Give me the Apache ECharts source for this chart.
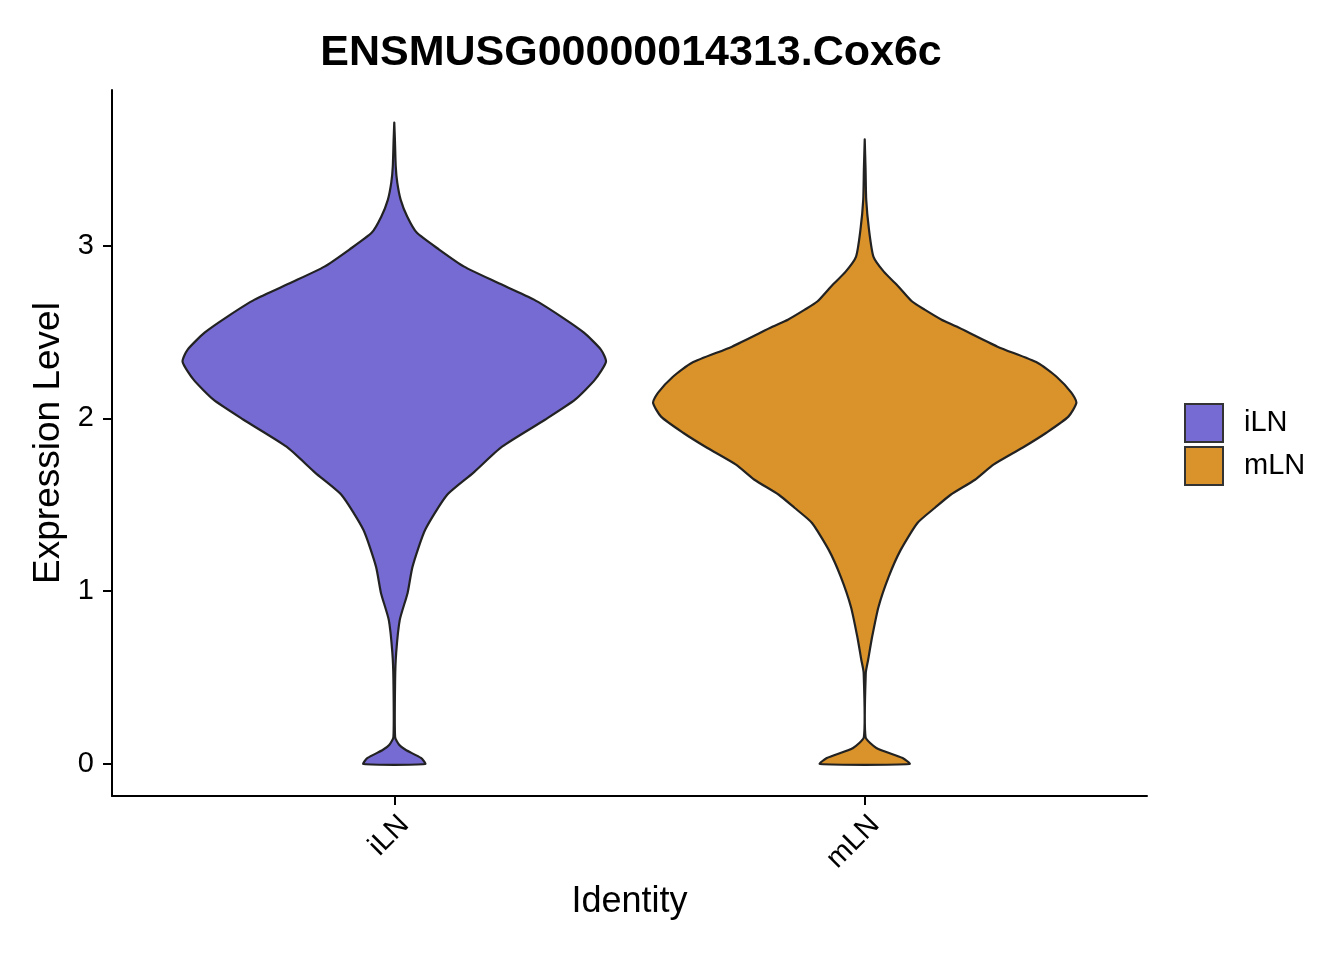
<!DOCTYPE html>
<html>
<head>
<meta charset="utf-8">
<script src="https://cdn.jsdelivr.net/npm/echarts@6/dist/echarts.min.js"></script>
<style>
html,body{margin:0;padding:0;background:#fff;}
#chart{width:1344px;height:960px;}
</style>
</head>
<body>
<div id="chart"></div>
<script>
const titleText = 'ENSMUSG00000014313.Cox6c';
const categories = ['iLN', 'mLN'];
const yTicks = [0, 1, 2, 3];
const colors = ['#766BD2', '#DA932A'];

// Violin profile for iLN: expression level and relative density (1 = widest)
const iLN_y = [3.712, 3.614, 3.457, 3.365, 3.266, 3.168, 3.075, 2.977, 2.878, 2.786, 2.687, 2.589, 2.496, 2.398, 2.328, 2.224, 2.108, 1.992, 1.836, 1.685, 1.558, 1.355, 1.141, 0.990, 0.834, 0.643, 0.486, 0.156, 0.110, 0.081, 0.035, 0.000];
const iLN_density = [0.000, 0.003, 0.007, 0.014, 0.030, 0.061, 0.106, 0.212, 0.330, 0.486, 0.660, 0.788, 0.896, 0.976, 1.000, 0.948, 0.854, 0.712, 0.509, 0.373, 0.250, 0.146, 0.086, 0.063, 0.026, 0.009, 0.004, 0.004, 0.024, 0.055, 0.126, 0.146];

// Violin profile for mLN
const mLN_y = [3.614, 3.440, 3.266, 3.093, 2.936, 2.849, 2.762, 2.676, 2.629, 2.571, 2.531, 2.415, 2.322, 2.241, 2.149, 2.091, 2.010, 1.917, 1.830, 1.732, 1.645, 1.558, 1.483, 1.396, 1.239, 1.083, 0.909, 0.736, 0.602, 0.527, 0.156, 0.093, 0.035, 0.000];
const mLN_density = [0.000, 0.004, 0.007, 0.020, 0.041, 0.090, 0.160, 0.224, 0.283, 0.363, 0.434, 0.627, 0.816, 0.906, 0.976, 1.000, 0.962, 0.858, 0.745, 0.608, 0.521, 0.406, 0.332, 0.250, 0.170, 0.113, 0.065, 0.035, 0.016, 0.005, 0.004, 0.055, 0.179, 0.212];

const profiles = [
  { y: iLN_y, d: iLN_density },
  { y: mLN_y, d: mLN_density }
];
const HALF_WIDTH = 0.45; // violin width 0.9 category units

function renderViolin(params, api) {
  const idx = params.seriesIndex;
  const center = idx + 1;
  const p = profiles[idx];
  const pts = [];
  for (let i = p.y.length - 1; i >= 0; i--) {
    pts.push(api.coord([center + p.d[i] * HALF_WIDTH, p.y[i]]));
  }
  for (let i = 0; i < p.y.length; i++) {
    pts.push(api.coord([center - p.d[i] * HALF_WIDTH, p.y[i]]));
  }
  return {
    type: 'polygon',
    shape: { points: pts, smooth: 0.2 },
    style: { fill: colors[idx], stroke: '#222', lineWidth: 2.2, lineJoin: 'round' }
  };
}

const chart = echarts.init(document.getElementById('chart'), null, { renderer: 'canvas' });
const font = 'Liberation Sans, Arial, Helvetica, sans-serif';

chart.setOption({
  backgroundColor: '#fff',
  animation: false,
  textStyle: { fontFamily: font },
  title: {
    text: titleText,
    left: 626,
    textAlign: 'center',
    top: 27,
    textStyle: { fontFamily: font, fontSize: 43, fontWeight: 'bold', color: '#000' }
  },
  grid: { left: 112, right: 197, top: 90, bottom: 164 },
  legend: {
    orient: 'vertical',
    left: 1184,
    top: 403,
    padding: 0,
    itemWidth: 38,
    itemHeight: 38,
    itemGap: 3,
    icon: 'rect',
    data: categories,
    itemStyle: { borderColor: '#333', borderWidth: 2 },
    textStyle: { fontFamily: font, fontSize: 29, color: '#000', padding: [0, 0, 0, 16] }
  },
  xAxis: {
    type: 'value',
    min: 0.4,
    max: 2.6,
    name: 'Identity',
    nameLocation: 'middle',
    nameGap: 88,
    nameTextStyle: { fontFamily: font, fontSize: 36, color: '#000' },
    axisLine: { show: true, onZero: false, lineStyle: { color: '#000', width: 2 } },
    axisTick: { show: true, length: 9, lineStyle: { color: '#000', width: 2 }, customValues: [1, 2] },
    axisLabel: {
      customValues: [1, 2],
      formatter: function (v) { return categories[Math.round(v) - 1] || ''; },
      rotate: 45,
      align: 'right',
      verticalAlign: 'top',
      margin: 14,
      fontFamily: font,
      fontSize: 29,
      color: '#000'
    },
    splitLine: { show: false }
  },
  yAxis: {
    type: 'value',
    min: -0.185,
    max: 3.9,
    name: 'Expression Level',
    nameLocation: 'middle',
    nameGap: 45,
    nameTextStyle: { fontFamily: font, fontSize: 37, color: '#000' },
    axisLine: { show: true, onZero: false, lineStyle: { color: '#000', width: 2 } },
    axisTick: { show: true, length: 9, lineStyle: { color: '#000', width: 2 }, customValues: yTicks },
    axisLabel: {
      customValues: yTicks,
      margin: 18,
      fontFamily: font,
      fontSize: 29,
      color: '#000'
    },
    splitLine: { show: false }
  },
  series: [
    {
      name: 'iLN',
      type: 'custom',
      coordinateSystem: 'cartesian2d',
      itemStyle: { color: colors[0], borderColor: '#333', borderWidth: 2 },
      renderItem: renderViolin,
      data: [[1, 0]],
      z: 2
    },
    {
      name: 'mLN',
      type: 'custom',
      coordinateSystem: 'cartesian2d',
      itemStyle: { color: colors[1], borderColor: '#333', borderWidth: 2 },
      renderItem: renderViolin,
      data: [[2, 0]],
      z: 2
    }
  ]
});
</script>
</body>
</html>
